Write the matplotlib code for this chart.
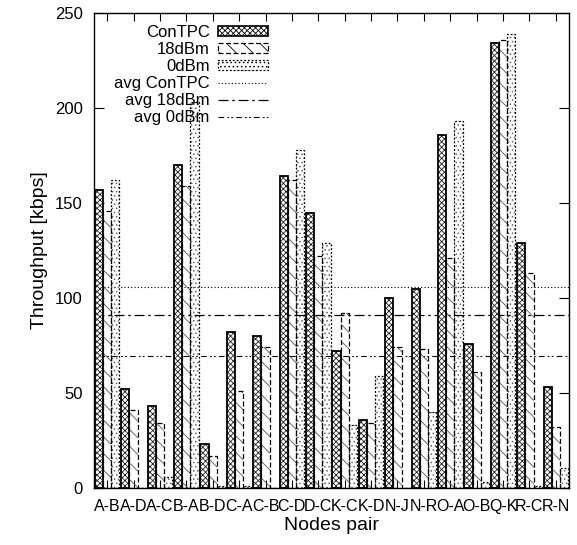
import matplotlib
matplotlib.use("Agg")
import matplotlib.pyplot as plt
import numpy as np
from matplotlib.patches import Patch
from matplotlib.lines import Line2D

plt.rcParams['font.family'] = ['Liberation Sans', 'DejaVu Sans']
plt.rcParams['hatch.linewidth'] = 0.6

pairs = ["A-B", "A-D", "A-C", "B-A", "B-D", "C-A", "C-B", "C-D", "D-C",
         "K-C", "K-D", "N-J", "N-R", "O-A", "O-B", "Q-K", "R-C", "R-N"]
contpc = [157, 52, 43, 170, 23, 82, 80, 164, 145, 72, 36, 100, 105, 186, 76, 234, 129, 53]
dbm18 = [146, 41, 34, 159, 17, 51, 74, 162, 122, 92, 34, 74, 73, 121, 61, 236, 113, 32]
dbm0 = [162, 0, 6, 203, 1, 1, 0, 178, 129, 33, 59, 0, 40, 193, 3, 239, 1, 10.5]
avg_contpc = 105.6
avg_18 = 90.8
avg_0 = 69.7
yticks = [0, 50, 100, 150, 200, 250]

fig = plt.figure(figsize=(5.77, 5.45), dpi=100)
ax = fig.add_axes([94/577, 57/545, 475/577, 475/545])

x = np.arange(len(pairs))
w = 0.31

# average lines (behind the opaque ConTPC bars)
ax.axhline(avg_contpc, color='black', lw=0.8, ls=(0, (1, 2)), zorder=1.5)
ax.axhline(avg_18, color='black', lw=0.9, ls=(0, (8, 3, 2, 3)), zorder=1.5)
ax.axhline(avg_0, color='black', lw=0.8, ls=(0, (5, 3, 1.5, 2, 1.5, 3)), zorder=1.5)

# ConTPC: dense crosshatch
ax.bar(x - w, contpc, w, facecolor='white', edgecolor='#222222', hatch='xxxxxx',
       linewidth=0, zorder=2)
ax.bar(x - w, contpc, w, facecolor='none', edgecolor='black', linewidth=1.3, zorder=2.1)

# 18dBm: sparse back-diagonal, dashed outline
ax.bar(x, dbm18, w, facecolor='none', edgecolor='#555555', hatch='\\\\',
       linewidth=0, zorder=2)
ax.bar(x, dbm18, w, facecolor='none', edgecolor='black', linewidth=0.9,
       linestyle=(0, (4, 2)), zorder=2.1)

# 0dBm: dotted pattern, dotted outline
ax.bar(x + w, dbm0, w, facecolor='none', edgecolor='#666666', hatch='....',
       linewidth=0, zorder=2)
ax.bar(x + w, dbm0, w, facecolor='none', edgecolor='black', linewidth=0.9,
       linestyle=(0, (1.5, 1.5)), zorder=2.1)

ax.set_xlim(-0.5, len(pairs) - 0.5)
ax.set_ylim(0, 250)
ax.set_yticks(yticks)
ax.set_xticks(x)
ax.set_xticklabels(pairs, fontsize=11.5)
ax.tick_params(axis='y', direction='in', length=7, width=0.8, labelsize=12,
               left=True, right=True, pad=8)
ax.tick_params(axis='x', direction='in', length=6, width=0.8, top=True, bottom=True, pad=8)
for s in ax.spines.values():
    s.set_linewidth(1.0)

ax.set_ylabel("Throughput [kbps]", fontsize=14, labelpad=5)
ax.set_xlabel("Nodes pair", fontsize=14, labelpad=2)

handles = [
    Patch(facecolor='white', edgecolor='black', hatch='xxxxxx', linewidth=1.2),
    Patch(facecolor='white', edgecolor='black', hatch='\\\\', linewidth=0.9, linestyle=(0, (4, 2))),
    Patch(facecolor='white', edgecolor='black', hatch='....', linewidth=0.9, linestyle=(0, (1.5, 1.5))),
    Line2D([], [], color='black', lw=0.8, ls=(0, (1, 2))),
    Line2D([], [], color='black', lw=0.9, ls=(0, (8, 3, 2, 3))),
    Line2D([], [], color='black', lw=0.8, ls=(0, (5, 3, 1.5, 2, 1.5, 3))),
]
labels = ["ConTPC", "18dBm", "0dBm", "avg ConTPC", "avg 18dBm", "avg 0dBm"]
leg = ax.legend(handles, labels, loc='upper right', bbox_to_anchor=(0.366, 0.975),
                markerfirst=False, frameon=False, fontsize=12, handlelength=3.0,
                handleheight=0.5, labelspacing=0.12, handletextpad=0.5,
                borderpad=0, borderaxespad=0)
leg.set_zorder(5)

fig.savefig("out.png", dpi=100)
